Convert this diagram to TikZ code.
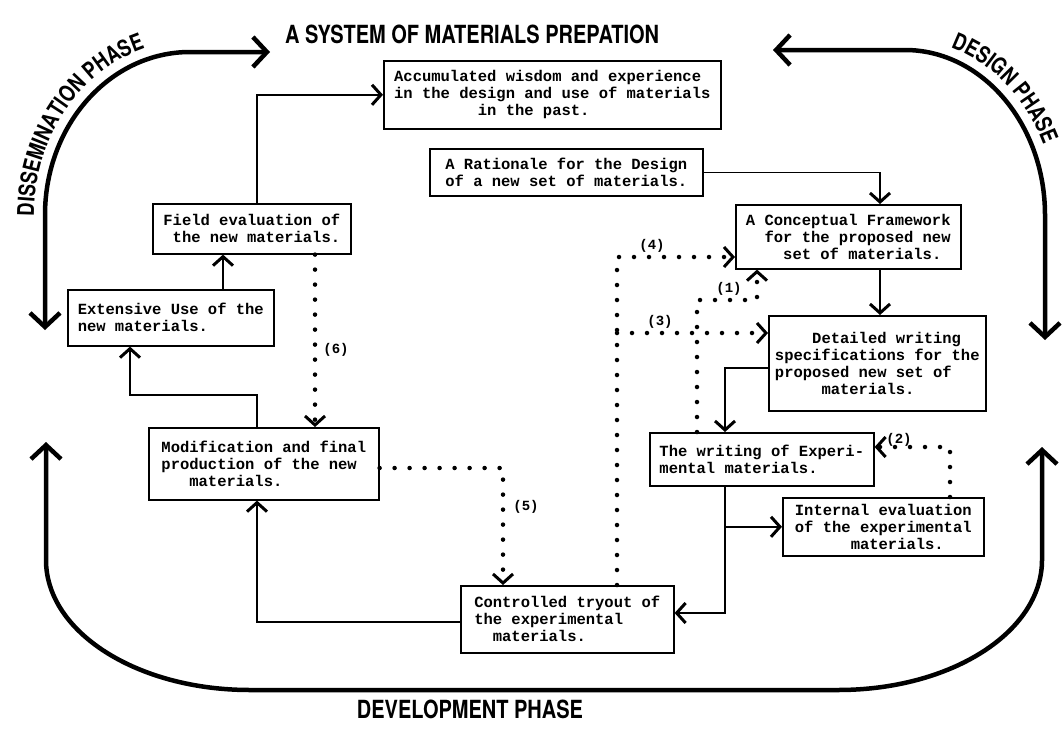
\documentclass[tikz,border=0pt]{standalone}
\usepackage{fontspec}
\usetikzlibrary{arrows.meta,decorations.text}
\newfontfamily\bodyfamily{Liberation Mono}
\newfontfamily\headfamily{TeX Gyre Heros}[FakeStretch=0.8]
\newcommand\bodytext{\bodyfamily\bfseries\fontsize{15.5}{17}\selectfont}
\newcommand\lbltext{\bodyfamily\bfseries\fontsize{14}{15}\selectfont}
\newcommand\titletext{\headfamily\bfseries\fontsize{25}{27}\selectfont}
\newcommand\phasetext{\headfamily\bfseries\fontsize{23}{25}\selectfont}
\newcommand\ind[1]{\phantom{#1}}
\begin{document}
\begin{tikzpicture}[x=1pt,y=-1pt,
  box/.style 2 args={draw,line width=1.6pt,inner sep=0pt,font=\bodytext,anchor=north west,minimum width=#1,minimum height=#2},
  conn/.style={line width=1.6pt,-{Straight Barb[length=9pt,width=20pt,line width=3pt]}},
  dotline/.style={line width=4.5pt,line cap=round,dash pattern=on 0pt off 15pt,-{Straight Barb[length=9pt,width=20pt,line width=3pt]}},
  phase/.style={line width=4.5pt,{Straight Barb[length=14pt,width=30pt,line width=4.5pt]}-{Straight Barb[length=14pt,width=30pt,line width=4.5pt]}},
  lbl/.style={font=\lbltext,inner sep=0pt}]
\useasboundingbox (0,0) rectangle (1062,731);
% titles
\node[anchor=west,font=\titletext,inner sep=0pt] (title) at (285,34) {A SYSTEM OF MATERIALS PREPATION};
\node[anchor=north,font=\titletext,inner sep=0pt] (dev) at (470,700) {DEVELOPMENT PHASE};
% boxes
\node[box={337pt}{68pt},align=left] (acc) at (383,60) {Accumulated wisdom and experience\\in the design and use of materials\\\ind{xxxxxxxxx}in the past.};
\node[box={273pt}{47pt},align=left] (rat) at (429,148) {A Rationale for the Design\\of a new set of materials.};
\node[box={225pt}{64pt},align=left] (conc) at (735,204) {A Conceptual Framework\\\ind{xx}for the proposed new\\\ind{xxxx}set of materials.};
\node[box={217pt}{95pt},align=left] (det) at (768,315) {\ind{xxxx}Detailed writing\\specifications for the\\proposed new set of\\\ind{xxxxx}materials.};
\node[box={224pt}{53pt},align=left] (wri) at (649,432) {The writing of Experi-\\mental materials.};
\node[box={201pt}{58pt},align=left] (int) at (782,497) {Internal evaluation\\of the experimental\\\ind{xxxxxx}materials.};
\node[box={213pt}{67pt},align=left] (try) at (460,585) {Controlled tryout of\\the experimental\\\ind{xx}materials.};
\node[box={230pt}{72pt},align=left] (mod) at (148,427) {Modification and final\\production of the new\\\ind{xxx}materials.};
\node[box={198pt}{50pt},align=left] (fld) at (152,203) {Field evaluation of\\\ind{x}the new materials.};
\node[box={206pt}{56pt},align=left] (ext) at (67,289) {Extensive Use of the\\new materials.};
% helper coordinates
\coordinate (c1) at (257,395);
\coordinate (c2) at (880,0);
\coordinate (c7) at (130,0);
\coordinate (c8) at (223,0);
\coordinate (m1) at (725,368);
\coordinate (m2) at (725,613);
\coordinate (m3) at (257,622);
\coordinate (k1) at (697,300);
\coordinate (k1b) at (757,300);
\coordinate (k2) at (950,447);
\coordinate (k3) at (617,333);
\coordinate (k4) at (617,257);
\coordinate (k5) at (503,468);
\coordinate (k6) at (315,0);
% solid connectors
\draw[conn] (fld.north -| c1) |- (acc.west);
\draw[conn] (rat.east) -| (conc.north -| c2);
\draw[conn] (conc.south -| c2) -- (det.north -| c2);
\draw[conn] (det.west |- m1) -- (m1) -- (wri.north -| m1);
\draw[conn] (wri.south -| m1) |- (int.west);
\draw[conn] (wri.south -| m1) -- (m2) -- (try.east |- m2);
\draw[conn] (try.west |- m3) -- (m3) -- (mod.south -| m3);
\draw[conn] (mod.north -| c1) -- (c1) -| (ext.south -| c7);
\draw[conn] (ext.north -| c8) -- (fld.south -| c8);
% dotted connectors
\draw[dotline] (wri.north -| k1) -- (k1) -- (k1b) -- (conc.south -| k1b);
\draw[dotline] (int.north -| k2) -- (k2) -- (wri.east |- k2);
\draw[dotline] (k3) -- (det.west |- k3);
\draw[dotline] (try.north -| k4) -- (k4) -- (conc.west |- k4);
\draw[dotline] (mod.east |- k5) -- (k5) -- (try.north -| k5);
\draw[dotline] (fld.south -| k6) -- (mod.north -| k6);
\node[lbl] (l1) at (729,289) {(1)};
\node[lbl] (l2) at (899,440) {(2)};
\node[lbl] (l3) at (660,322) {(3)};
\node[lbl] (l4) at (652,246) {(4)};
\node[lbl] (l5) at (526,507) {(5)};
\node[lbl] (l6) at (336,350) {(6)};
% phase arrows
\draw[phase] (45,330) -- (45,215) .. controls (45,125) and (110,52) .. (190,52) -- (270,52);
\draw[phase] (773,50) -- (905,50) .. controls (982,50) and (1045,124) .. (1045,215) -- (1045,340);
\draw[phase] (46,442) -- (46,560) .. controls (46,632) and (137,690) .. (250,690) -- (838,690) .. controls (951,690) and (1042,632) .. (1042,560) -- (1042,447);
\path[decorate,decoration={text along path,text align=center,text={|\phasetext|DISSEMINATION PHASE}}]
  (34,262) -- (34,215) .. controls (34,119) and (104,41) .. (190,41);
\path[decorate,decoration={text along path,text align=center,text={|\phasetext|DESIGN PHASE}}]
  (880,39) -- (905,39) .. controls (988,39) and (1056,118) .. (1056,215);
\end{tikzpicture}
\end{document}
